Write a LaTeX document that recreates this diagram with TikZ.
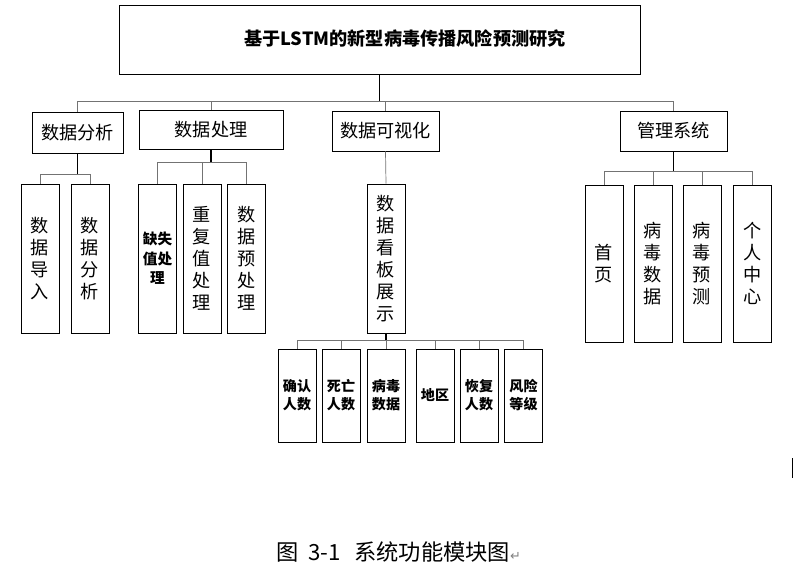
\documentclass[tikz,border=0pt]{standalone}
\usepackage{fontspec}
\newfontfamily\cjk{Noto Sans CJK SC}
\newfontfamily\symb{DejaVu Sans}

\tikzset{
  box/.style={draw, line width=0.8pt, inner sep=0pt, align=center,
    font=\cjk\fontsize{15.5}{18.8}\selectfont},
  tall/.style={box, minimum width=1.14cm, minimum height=4.47cm},
  taller/.style={box, minimum width=1.14cm, minimum height=4.71cm},
  short/.style={box, minimum width=1.14cm, minimum height=2.79cm,
    font=\cjk\bfseries\fontsize{12}{15.5}\selectfont},
  stem/.style={draw=black, line width=1pt},
  link/.style={draw=black!55, line width=0.6pt},
}

\begin{document}
\begin{tikzpicture}[x=0.03cm,y=-0.03cm]
   \useasboundingbox (0,0) rectangle (794,572);
   % top box
   \node[box, minimum width=15.63cm, minimum height=2.07cm] (title) at (379.5,39.5) {};
   \node[font=\cjk\bfseries\fontsize{15.5}{18}\selectfont] (titletext) at (405,39) {基于LSTM的新型病毒传播风险预测研究};
   % second level
   \node[box, minimum width=2.73cm, minimum height=1.23cm] (fenxi) at (77.5,132.5) {数据分析};
   \node[box, minimum width=4.32cm, minimum height=1.17cm] (chuli) at (211,129.5) {数据处理};
   \node[box, minimum width=3.21cm, minimum height=1.2cm] (keshi) at (385.5,131) {数据可视化};
   \node[box, minimum width=3.21cm, minimum height=1.2cm] (guanli) at (673.5,131) {管理系统};
   \coordinate (bus) at (0,101);
   \draw[stem] (title.south) -- (title.south |- bus);
   \draw[link] (fenxi.north) -- (fenxi.north |- bus) -- (guanli.north |- bus) -- (guanli.north);
   \foreach \n in {chuli,keshi} \draw[link] (\n.north) -- (\n.north |- bus);
   % data analysis
   \node[tall] (daoru) at (40,258.5) {数\\据\\导\\入};
   \node[tall] (fenxitwo) at (90,258.5) {数\\据\\分\\析};
   \coordinate (busa) at (0,174);
   \draw[stem] (fenxi.south) -- (fenxi.south |- busa);
   \draw[link] (daoru.north) -- (daoru.north |- busa) -- (fenxitwo.north |- busa) -- (fenxitwo.north);
   % data processing
   \node[tall, font=\cjk\bfseries\fontsize{12.5}{16.5}\selectfont] (queshi) at (157.5,258.5) {缺失\\值处\\理};
   \node[tall] (chongfu) at (202,258.5) {重\\复\\值\\处\\理};
   \node[tall] (yuchuli) at (246.5,258.5) {数\\据\\预\\处\\理};
   \coordinate (busb) at (0,162);
   \draw[stem] (chuli.south) -- (chuli.south |- busb);
   \draw[link] (queshi.north) -- (queshi.north |- busb) -- (yuchuli.north |- busb) -- (yuchuli.north);
   \draw[link] (chongfu.north) -- (chongfu.north |- busb);
   % visualisation
   \node[tall] (kanban) at (386,258.5) {数\\据\\看\\板\\展\\示};
   \draw[link] (keshi.south) -- (kanban.north);
   \foreach \n/\x/\t in {queren/297/{确认\\人数}, siwang/341/{死亡\\人数}, bingdu/386/{病毒\\数据},
                        diqu/435/{地区}, huifu/479/{恢复\\人数}, fengxian/523.5/{风险\\等级}}
     \node[short] (\n) at (\x,395.5) {\t};
   \coordinate (busc) at (0,340);
   \draw[stem] (kanban.south) -- (kanban.south |- busc);
   \draw[link] (queren.north) -- (queren.north |- busc) -- (fengxian.north |- busc) -- (fengxian.north);
   \foreach \n in {siwang,bingdu,diqu,huifu} \draw[link] (\n.north) -- (\n.north |- busc);
   % management
   \node[taller] (shouye) at (604,263.5) {首\\页};
   \node[taller] (bdsj) at (653,263.5) {病\\毒\\数\\据};
   \node[taller] (bdyc) at (702,263.5) {病\\毒\\预\\测};
   \node[taller] (geren) at (752.5,263.5) {个\\人\\中\\心};
   \coordinate (busd) at (0,171);
   \draw[stem] (guanli.south) -- (guanli.south |- busd);
   \draw[link] (shouye.north) -- (shouye.north |- busd) -- (geren.north |- busd) -- (geren.north);
   \foreach \n in {bdsj,bdyc} \draw[link] (\n.north) -- (\n.north |- busd);
   % caption
   \node[anchor=west, inner sep=0pt, font=\cjk\fontsize{19}{22}\selectfont] (caption) at (276,552)
     {图\hspace{0.3cm}3-1\hspace{0.4cm}系统功能模块图{\symb\color{gray}\fontsize{11}{12}\selectfont ↵}};
   \draw[line width=0.8pt] (792,458) -- (792,478);
\end{tikzpicture}
\end{document}
